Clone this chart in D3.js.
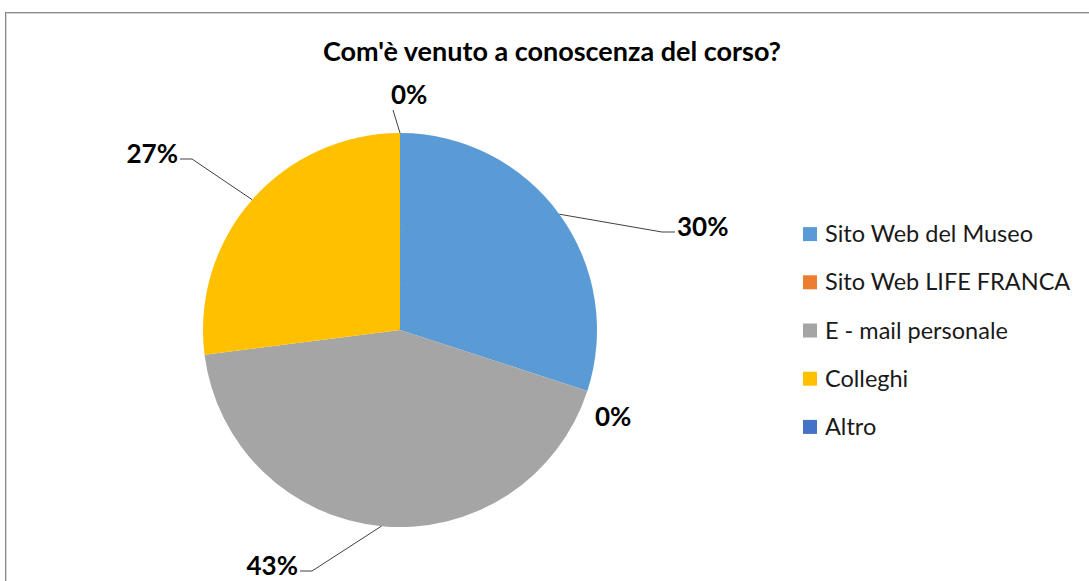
<!DOCTYPE html>
<html><head><meta charset="utf-8">
<script src="https://cdn.jsdelivr.net/npm/d3@7"></script>
<style>body{margin:0;background:#fff}svg{display:block}</style>
</head><body>
<svg id="c" width="1089" height="581"></svg>
<script>
const categories = ["Sito Web del Museo", "Sito Web LIFE FRANCA", "E - mail personale", "Colleghi", "Altro"];
const values = [30, 0, 43, 27, 0];
const labels = ["30%", "0%", "43%", "27%", "0%"];
const colors = ["#5B9BD5", "#ED7D31", "#A5A5A5", "#FFC000", "#4472C4"];
const title = "Com'è venuto a conoscenza del corso?";

// label layout (positions only)
const labelLayout = [
  {x: 677, y: 236, anchor: "start", elbow: [662, 675]},
  {x: 595, y: 426, anchor: "start", elbow: null},
  {x: 298, y: 575, anchor: "end", elbow: [312, 300]},
  {x: 178, y: 163, anchor: "end", elbow: [192, 180]},
  {x: 391, y: 104, anchor: "start", elbow: null, leaderEnd: [393, 110]}
];

const svg = d3.select("#c");
const font = "Lato, 'Open Sans', sans-serif";

// frame
svg.append("rect").attr("x", 5.5).attr("y", 12.5).attr("width", 1200).attr("height", 700)
  .attr("fill", "#fff").attr("stroke", "#8a8a8a").attr("stroke-width", 1);
svg.append("rect").attr("x", 6.5).attr("y", 13.5).attr("width", 1200).attr("height", 700)
  .attr("fill", "none").attr("stroke", "#d4d4d4").attr("stroke-width", 1);

svg.append("text").attr("x", 552).attr("y", 61).attr("text-anchor", "middle")
  .attr("font-family", font).attr("font-weight", "bold").attr("font-size", 27)
  .attr("fill", "#000").text(title);

const cx = 400, cy = 330, r = 197;
const g = svg.append("g").attr("transform", `translate(${cx},${cy})`);
const pie = d3.pie().sort(null).value(d => d)(values);
const arc = d3.arc().innerRadius(0).outerRadius(r);

g.selectAll("path.s").data(pie).join("path").attr("class", "s")
  .attr("d", arc).attr("fill", (d, i) => colors[i]);

// faint dotted line for zero slice at top
g.append("line").attr("x1", 0).attr("y1", -r).attr("x2", 0).attr("y2", 0)
  .attr("stroke", "#4a7fb5").attr("stroke-width", 0.8).attr("stroke-dasharray", "1,6").attr("opacity", 0.5)
  .attr("transform", "rotate(4)");

// leader lines & labels
pie.forEach((d, i) => {
  const L = labelLayout[i];
  const mid = (d.startAngle + d.endAngle) / 2;
  const px = cx + r * Math.sin(mid), py = cy - r * Math.cos(mid);
  if (L.elbow) {
    const ly = L.y - 4;
    svg.append("polyline")
      .attr("points", `${px},${py} ${L.elbow[0]},${ly} ${L.elbow[1]},${ly}`)
      .attr("fill", "none").attr("stroke", "#404040").attr("stroke-width", 1);
  } else if (L.leaderEnd) {
    svg.append("line").attr("x1", px).attr("y1", py).attr("x2", L.leaderEnd[0]).attr("y2", L.leaderEnd[1])
      .attr("stroke", "#404040").attr("stroke-width", 1);
  }
  svg.append("text").attr("x", L.x).attr("y", L.y).attr("text-anchor", L.anchor)
    .attr("font-family", font).attr("font-weight", "bold").attr("font-size", 26)
    .attr("fill", "#000").text(labels[i]);
});

// legend
const lg = svg.append("g");
const ly = d3.scaleBand().domain(categories).range([210, 451]);
categories.forEach((c, i) => {
  const yc = ly(c) + ly.bandwidth() / 2;
  lg.append("rect").attr("x", 803).attr("y", yc - 7).attr("width", 14).attr("height", 14).attr("fill", colors[i]);
  lg.append("text").attr("x", 825).attr("y", yc + 8).attr("font-family", font).attr("font-size", 23.5)
    .attr("fill", "#1a1a1a").text(c);
});
</script>
</body></html>
